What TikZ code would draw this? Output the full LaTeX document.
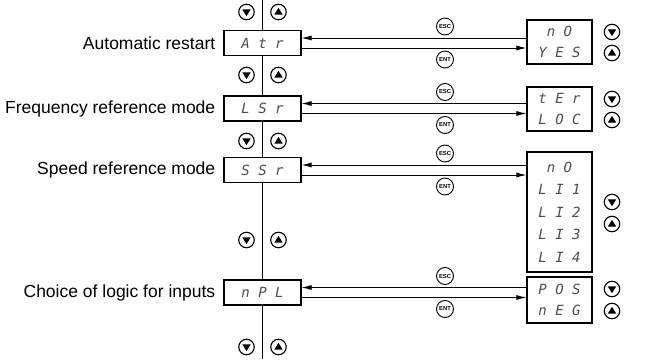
\documentclass[tikz,border=0pt]{standalone}
\usepackage{fontspec}
\setmainfont{Liberation Sans}
\newfontfamily\segfont{DejaVu Sans Mono}[LetterSpace=60]
\usetikzlibrary{arrows.meta}
\newcommand\trdown[1]{\fill ([shift={(-4.2,-2.6)}]#1.center) -- ([shift={(4.2,-2.6)}]#1.center) -- ([shift={(0,4.2)}]#1.center) -- cycle;}
\newcommand\trup[1]{\fill ([shift={(-4.2,2.6)}]#1.center) -- ([shift={(4.2,2.6)}]#1.center) -- ([shift={(0,-4.2)}]#1.center) -- cycle;}
\begin{document}
\begin{tikzpicture}[x=1pt,y=-1pt,
 lbl/.style={anchor=east,font=\fontsize{17.5}{20}\selectfont,inner sep=0},
 lbox/.style={draw,line width=1.1pt,fill=white,minimum width=77pt,minimum height=25pt,inner sep=0,font=\segfont\itshape\fontsize{14}{18}\selectfont,text=black!70},
 rbox/.style={draw,line width=1.1pt,fill=white,minimum width=65pt,inner sep=0,align=center,font=\segfont\itshape\fontsize{14}{21}\selectfont,text=black!70},
 keybtn/.style={circle,draw,line width=0.9pt,fill=white,minimum size=17pt,inner sep=0,font=\fontsize{5.8}{6}\selectfont\bfseries},
 btn/.style={circle,draw,line width=1.1pt,fill=white,minimum size=15.5pt,inner sep=0},
 arr/.style={line width=0.9pt,-{Latex[length=10pt,width=5pt]}},
 conn/.style={line width=0.9pt}]
\useasboundingbox (0,0) rectangle (651,359);
% vertical line
\coordinate (vt) at (262.5,0);
\coordinate (vb) at (262.5,359);
\draw[conn] (vt) -- (vb);
% left boxes
\node[lbox] (l1) at (262.5,43) {Atr};
\node[lbox] (l2) at (262.5,108.5) {LSr};
\node[lbox] (l3) at (262.5,170) {SSr};
\node[lbox] (l4) at (262.5,292.5) {nPL};
% labels
\node[lbl] (t1) at ([xshift=-8pt]l1.west) {Automatic restart};
\node[lbl] (t2) at ([xshift=-8pt]l2.west) {Frequency reference mode};
\node[lbl] (t3) at ([xshift=-8pt]l3.west) {Speed reference mode};
\node[lbl] (t4) at ([xshift=-8pt]l4.west) {Choice of logic for inputs};
% buttons on the vertical line
\foreach \n/\y in {a/12,b/75,c/141,d/240,e/347}{
  \node[btn] (d\n) at (246.5,\y) {};
  \node[btn] (u\n) at (278.5,\y) {};
  \trdown{d\n}
  \trup{u\n}
}
% right boxes
\node[rbox,minimum height=44pt] (r1) at (559.5,42) {nO\\YES};
\node[rbox,minimum height=44pt] (r2) at (559.5,109) {tEr\\LOC};
\node[rbox,minimum height=120pt,font=\segfont\itshape\fontsize{14}{22.5}\selectfont] (r3) at (559.5,212) {nO\\LI1\\LI2\\LI3\\LI4};
\node[rbox,minimum height=46pt] (r4) at (559.5,300) {POS\\nEG};
% right buttons
\foreach \i/\ya/\yb in {1/32/53,2/99/120,3/202/224,4/289/311}{
  \node[btn] (rd\i) at (612,\ya) {};
  \node[btn] (ru\i) at (612,\yb) {};
  \trdown{rd\i}
  \trup{ru\i}
}
% connectors
\foreach \i in {1,2,3,4}{
  \coordinate (hu\i) at ([yshift=5pt]l\i.east);
  \coordinate (hd\i) at ([yshift=-5pt]l\i.east);
  \draw[arr] (r\i.west |- hu\i) -- (hu\i);
  \draw[arr] (hd\i) -- (r\i.west |- hd\i);
  \node[keybtn] (esc\i) at ([yshift=11.5pt]hu\i -| 445,0) {ESC};
  \node[keybtn] (ent\i) at ([yshift=-11.5pt]hd\i -| 445,0) {ENT};
}
\end{tikzpicture}
\end{document}
